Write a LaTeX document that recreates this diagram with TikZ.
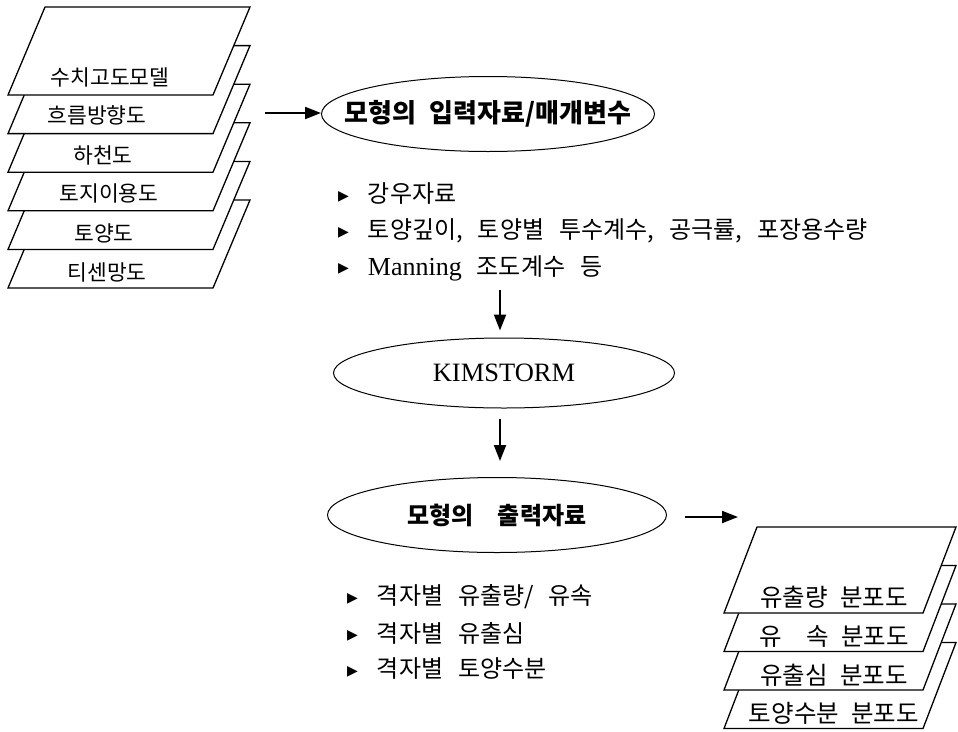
\documentclass[tikz,border=0pt]{standalone}
\usepackage{fontspec}
\setmainfont{Liberation Serif}
\newfontfamily\kr{Noto Sans CJK KR}
\newfontfamily\dv{DejaVu Sans}
\usetikzlibrary{shapes.geometric,arrows.meta}
\newcommand\mybul{\raisebox{2.5pt}{\dv\fontsize{14}{14}\selectfont ▶}\hspace{19pt}}
\newcommand\widesp{\spaceskip 15pt\relax}
\tikzset{
  sheet/.style={draw=black, fill=white, line width=1.3pt, line join=miter},
  lbl/.style={font=\kr\fontsize{21.5}{25}\selectfont, inner sep=0pt},
  rlbl/.style={font=\kr\fontsize{24.5}{28}\selectfont, inner sep=0pt},
  oval/.style={ellipse, draw, line width=1pt, inner sep=0pt},
  arr/.style={line width=2pt, -{Triangle[length=16pt,width=12pt]}},
  listitem/.style={anchor=west, inner sep=0pt,
    font=\kr\fontsize{24}{28}\selectfont, execute at begin node=\widesp},
}
\begin{document}
\begin{tikzpicture}[x=1pt,y=-1pt]
\useasboundingbox (0,0) rectangle (958,731);
% left stack of map sheets
\foreach \i in {5,4,3,2,1,0}{
  \pgfmathsetmacro\t{7+38.6*\i}
  \filldraw[sheet] (45,\t) -- (250,\t) -- (213,\t+88) -- (8,\t+88) -- cycle;
}
\node[lbl] (dem)  at (110,77)  {수치고도모델};
\node[lbl] (flow) at (97,115)  {흐름방향도};
\node[lbl] (riv)  at (103,155) {하천도};
\node[lbl] (land) at (109,193) {토지이용도};
\node[lbl] (soil) at (104,233) {토양도};
\node[lbl] (thi)  at (107,272) {티센망도};

% input ellipse
\node[oval, minimum width=333pt, minimum height=75pt,
      font=\kr\bfseries\fontsize{26}{31}\selectfont] (in) at (488,114)
      {\makebox[0pt]{모형의\hspace{0.5em}입력자료/매개변수}};
\coordinate (lstack) at (265,113);
\draw[arr] (lstack) -- (lstack -| in.west);

% input list
\node[listitem] (i1) at (338,194) {\mybul 강우자료};
\node[listitem] (i2) at (338,231) {\mybul 토양깊이, 토양별 투수계수, 공극률, 포장용수량};
\node[listitem] (i3) at (338,268) {\mybul {\rmfamily\fontsize{26}{30}\selectfont Manning} 조도계수 등};

% KIMSTORM
\node[oval, minimum width=341pt, minimum height=70pt,
      font=\rmfamily\fontsize{26.5}{30}\selectfont] (kim) at (504,373)
      {\makebox[0pt]{KIMSTORM}};
\coordinate (a1) at (500,290);
\draw[arr, shorten >=7pt] (a1) -- (a1 |- kim.north);

% output ellipse
\node[oval, minimum width=339pt, minimum height=75pt,
      font=\kr\bfseries\fontsize{24}{28}\selectfont] (out) at (497,515)
      {\makebox[0pt]{모형의\hspace{1em}출력자료}};
\draw[arr, shorten <=10pt, shorten >=16pt] (kim.south -| a1) -- (out.north -| a1);

% output list
\node[listitem] (o1) at (347,597) {\mybul 격자별 유출량/ 유속};
\node[listitem] (o2) at (347,633) {\mybul 격자별 유출심};
\node[listitem] (o3) at (347,669) {\mybul 격자별 토양수분};

% right arrow
\coordinate (rstart) at (685,517);
\coordinate (rstack) at (738,517);
\draw[arr] (rstart) -- (rstack);

% right stack of map sheets
\foreach \i in {3,2,1,0}{
  \pgfmathsetmacro\t{527+38.5*\i}
  \filldraw[sheet] (757,\t) -- (956,\t) -- (923,\t+86) -- (724,\t+86) -- cycle;
}
\node[rlbl] (r1) at (834,597) {유출량\hspace{0.5em}분포도};
\node[rlbl] (r2) at (834,636) {유\hspace{1em}속\hspace{0.5em}분포도};
\node[rlbl] (r3) at (834,675) {유출심\hspace{0.5em}분포도};
\node[rlbl] (r4) at (834,713) {토양수분\hspace{0.5em}분포도};
\end{tikzpicture}
\end{document}
